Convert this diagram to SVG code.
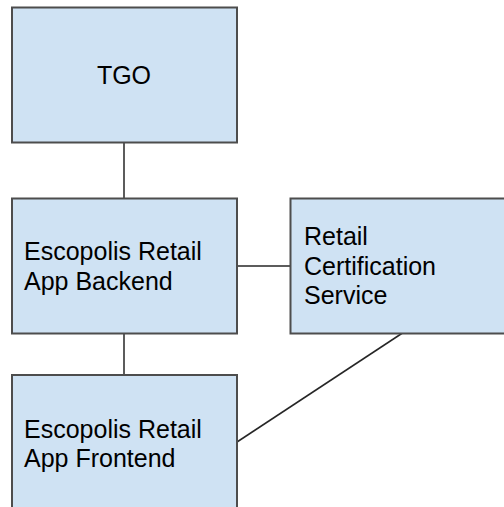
<svg xmlns="http://www.w3.org/2000/svg" width="504" height="507" viewBox="0 0 504 507">
<style>
.box{fill:#cfe2f3;stroke:#4d4d4d;stroke-width:2}
.t{font-family:"Liberation Sans",Arial,sans-serif;font-size:25px;fill:#000}
.c{stroke:#262626;stroke-width:1.5;fill:none}
</style>
<rect width="504" height="507" fill="#fff"/>
<g id="connectors">
<line class="c" x1="124" y1="143" x2="124" y2="198"/>
<line class="c" x1="237" y1="266" x2="290" y2="266"/>
<line class="c" x1="124" y1="333" x2="124" y2="375"/>
<line class="c" x1="402.5" y1="333" x2="237" y2="442"/>
</g>
<g id="tgo">
<rect class="box" x="12" y="7.5" width="225" height="135"/>
<text class="t" x="124" y="84" text-anchor="middle">TGO</text>
</g>
<g id="backend">
<rect class="box" x="12" y="198.5" width="225" height="135"/>
<text class="t" x="24" y="260">Escopolis Retail</text>
<text class="t" x="24" y="289.5">App Backend</text>
</g>
<g id="cert">
<rect class="box" x="290.5" y="198.5" width="225" height="135"/>
<text class="t" x="304" y="245">Retail</text>
<text class="t" x="304" y="274.5">Certification</text>
<text class="t" x="304" y="304">Service</text>
</g>
<g id="frontend">
<rect class="box" x="12" y="375" width="225" height="145"/>
<text class="t" x="24" y="437.5">Escopolis Retail</text>
<text class="t" x="24" y="467">App Frontend</text>
</g>
</svg>
